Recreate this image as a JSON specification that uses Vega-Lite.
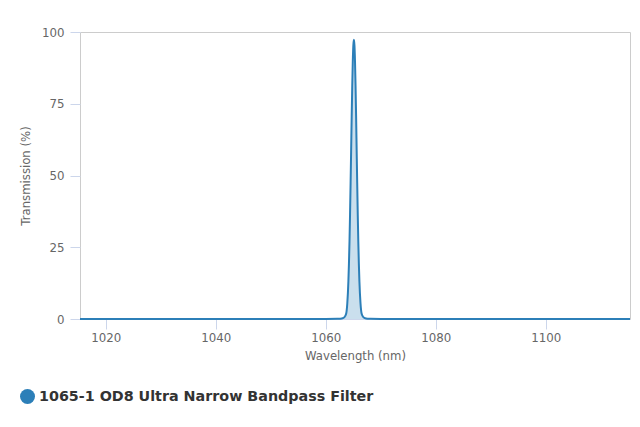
{
  "$schema": "https://vega.github.io/schema/vega-lite/v6.json",
  "description": "Transmission spectrum of a 1065 nm ultra narrow bandpass filter.",
  "autosize": "none",
  "width": 550,
  "height": 287,
  "padding": {"left": 80, "top": 32, "right": 10, "bottom": 108},
  "background": "white",
  "config": {
    "view": {"stroke": "#cccccc", "strokeWidth": 1},
    "font": "DejaVu Sans",
    "axis": {
      "labelFont": "DejaVu Sans",
      "labelFontSize": 11.8,
      "labelColor": "#666666",
      "titleFont": "DejaVu Sans",
      "titleFontSize": 11.7,
      "titleFontWeight": "normal",
      "titleColor": "#666666",
      "tickColor": "#ccd6eb",
      "tickSize": 10,
      "domainColor": "#ccd6eb",
      "grid": false
    }
  },
  "data": {
    "values": [
      {"wavelength": 1015.3, "transmission": 0, "series": "1065-1 OD8 Ultra Narrow Bandpass Filter"},
      {"wavelength": 1050, "transmission": 0, "series": "1065-1 OD8 Ultra Narrow Bandpass Filter"},
      {"wavelength": 1060, "transmission": 0, "series": "1065-1 OD8 Ultra Narrow Bandpass Filter"},
      {"wavelength": 1062.1, "transmission": 0.05, "series": "1065-1 OD8 Ultra Narrow Bandpass Filter"},
      {"wavelength": 1062.6, "transmission": 0.1, "series": "1065-1 OD8 Ultra Narrow Bandpass Filter"},
      {"wavelength": 1063.1, "transmission": 0.3, "series": "1065-1 OD8 Ultra Narrow Bandpass Filter"},
      {"wavelength": 1063.3, "transmission": 0.5, "series": "1065-1 OD8 Ultra Narrow Bandpass Filter"},
      {"wavelength": 1063.5, "transmission": 1.0, "series": "1065-1 OD8 Ultra Narrow Bandpass Filter"},
      {"wavelength": 1063.7, "transmission": 1.9, "series": "1065-1 OD8 Ultra Narrow Bandpass Filter"},
      {"wavelength": 1063.9, "transmission": 5.5, "series": "1065-1 OD8 Ultra Narrow Bandpass Filter"},
      {"wavelength": 1064.1, "transmission": 13.2, "series": "1065-1 OD8 Ultra Narrow Bandpass Filter"},
      {"wavelength": 1064.2, "transmission": 19.3, "series": "1065-1 OD8 Ultra Narrow Bandpass Filter"},
      {"wavelength": 1064.3, "transmission": 27.0, "series": "1065-1 OD8 Ultra Narrow Bandpass Filter"},
      {"wavelength": 1064.4, "transmission": 36.5, "series": "1065-1 OD8 Ultra Narrow Bandpass Filter"},
      {"wavelength": 1064.5, "transmission": 47.4, "series": "1065-1 OD8 Ultra Narrow Bandpass Filter"},
      {"wavelength": 1064.6, "transmission": 59.0, "series": "1065-1 OD8 Ultra Narrow Bandpass Filter"},
      {"wavelength": 1064.7, "transmission": 70.7, "series": "1065-1 OD8 Ultra Narrow Bandpass Filter"},
      {"wavelength": 1064.8, "transmission": 81.3, "series": "1065-1 OD8 Ultra Narrow Bandpass Filter"},
      {"wavelength": 1064.9, "transmission": 89.8, "series": "1065-1 OD8 Ultra Narrow Bandpass Filter"},
      {"wavelength": 1065.0, "transmission": 95.4, "series": "1065-1 OD8 Ultra Narrow Bandpass Filter"},
      {"wavelength": 1065.1, "transmission": 97.3, "series": "1065-1 OD8 Ultra Narrow Bandpass Filter"},
      {"wavelength": 1065.2, "transmission": 95.4, "series": "1065-1 OD8 Ultra Narrow Bandpass Filter"},
      {"wavelength": 1065.3, "transmission": 89.8, "series": "1065-1 OD8 Ultra Narrow Bandpass Filter"},
      {"wavelength": 1065.4, "transmission": 81.3, "series": "1065-1 OD8 Ultra Narrow Bandpass Filter"},
      {"wavelength": 1065.5, "transmission": 70.7, "series": "1065-1 OD8 Ultra Narrow Bandpass Filter"},
      {"wavelength": 1065.6, "transmission": 59.0, "series": "1065-1 OD8 Ultra Narrow Bandpass Filter"},
      {"wavelength": 1065.7, "transmission": 47.4, "series": "1065-1 OD8 Ultra Narrow Bandpass Filter"},
      {"wavelength": 1065.8, "transmission": 36.5, "series": "1065-1 OD8 Ultra Narrow Bandpass Filter"},
      {"wavelength": 1065.9, "transmission": 27.0, "series": "1065-1 OD8 Ultra Narrow Bandpass Filter"},
      {"wavelength": 1066.0, "transmission": 19.3, "series": "1065-1 OD8 Ultra Narrow Bandpass Filter"},
      {"wavelength": 1066.1, "transmission": 13.2, "series": "1065-1 OD8 Ultra Narrow Bandpass Filter"},
      {"wavelength": 1066.3, "transmission": 5.5, "series": "1065-1 OD8 Ultra Narrow Bandpass Filter"},
      {"wavelength": 1066.5, "transmission": 1.9, "series": "1065-1 OD8 Ultra Narrow Bandpass Filter"},
      {"wavelength": 1066.7, "transmission": 1.0, "series": "1065-1 OD8 Ultra Narrow Bandpass Filter"},
      {"wavelength": 1066.9, "transmission": 0.5, "series": "1065-1 OD8 Ultra Narrow Bandpass Filter"},
      {"wavelength": 1067.1, "transmission": 0.3, "series": "1065-1 OD8 Ultra Narrow Bandpass Filter"},
      {"wavelength": 1067.6, "transmission": 0.1, "series": "1065-1 OD8 Ultra Narrow Bandpass Filter"},
      {"wavelength": 1068.1, "transmission": 0.05, "series": "1065-1 OD8 Ultra Narrow Bandpass Filter"},
      {"wavelength": 1070, "transmission": 0, "series": "1065-1 OD8 Ultra Narrow Bandpass Filter"},
      {"wavelength": 1090, "transmission": 0, "series": "1065-1 OD8 Ultra Narrow Bandpass Filter"},
      {"wavelength": 1115.3, "transmission": 0, "series": "1065-1 OD8 Ultra Narrow Bandpass Filter"}
    ]
  },
  "encoding": {
    "x": {
      "field": "wavelength",
      "type": "quantitative",
      "title": "Wavelength (nm)",
      "scale": {"domain": [1015.3, 1115.3], "nice": false, "zero": false},
      "axis": {"values": [1020, 1040, 1060, 1080, 1100], "labelPadding": 3, "titlePadding": 7, "format": "d"}
    },
    "y": {
      "field": "transmission",
      "type": "quantitative",
      "title": "Transmission (%)",
      "scale": {"domain": [0, 100], "nice": false},
      "axis": {"values": [0, 25, 50, 75, 100], "domain": false, "labelPadding": 6, "titlePadding": 10}
    }
  },
  "layer": [
    {
      "mark": {"type": "area", "color": "#2c7fb8", "opacity": 0.25, "interpolate": "monotone"}
    },
    {
      "mark": {"type": "line", "strokeWidth": 2, "interpolate": "monotone"},
      "encoding": {
        "color": {
          "field": "series",
          "type": "nominal",
          "scale": {"range": ["#2c7fb8"]},
          "legend": {
            "title": null,
            "orient": "none",
            "legendX": -60,
            "legendY": 357,
            "symbolType": "circle",
            "symbolSize": 225,
            "symbolFillColor": "#2c7fb8",
            "symbolStrokeWidth": 0,
            "labelFont": "DejaVu Sans",
            "labelFontSize": 14.3,
            "labelFontWeight": "bold",
            "labelColor": "#333333",
            "labelLimit": 500
          }
        }
      }
    }
  ]
}
